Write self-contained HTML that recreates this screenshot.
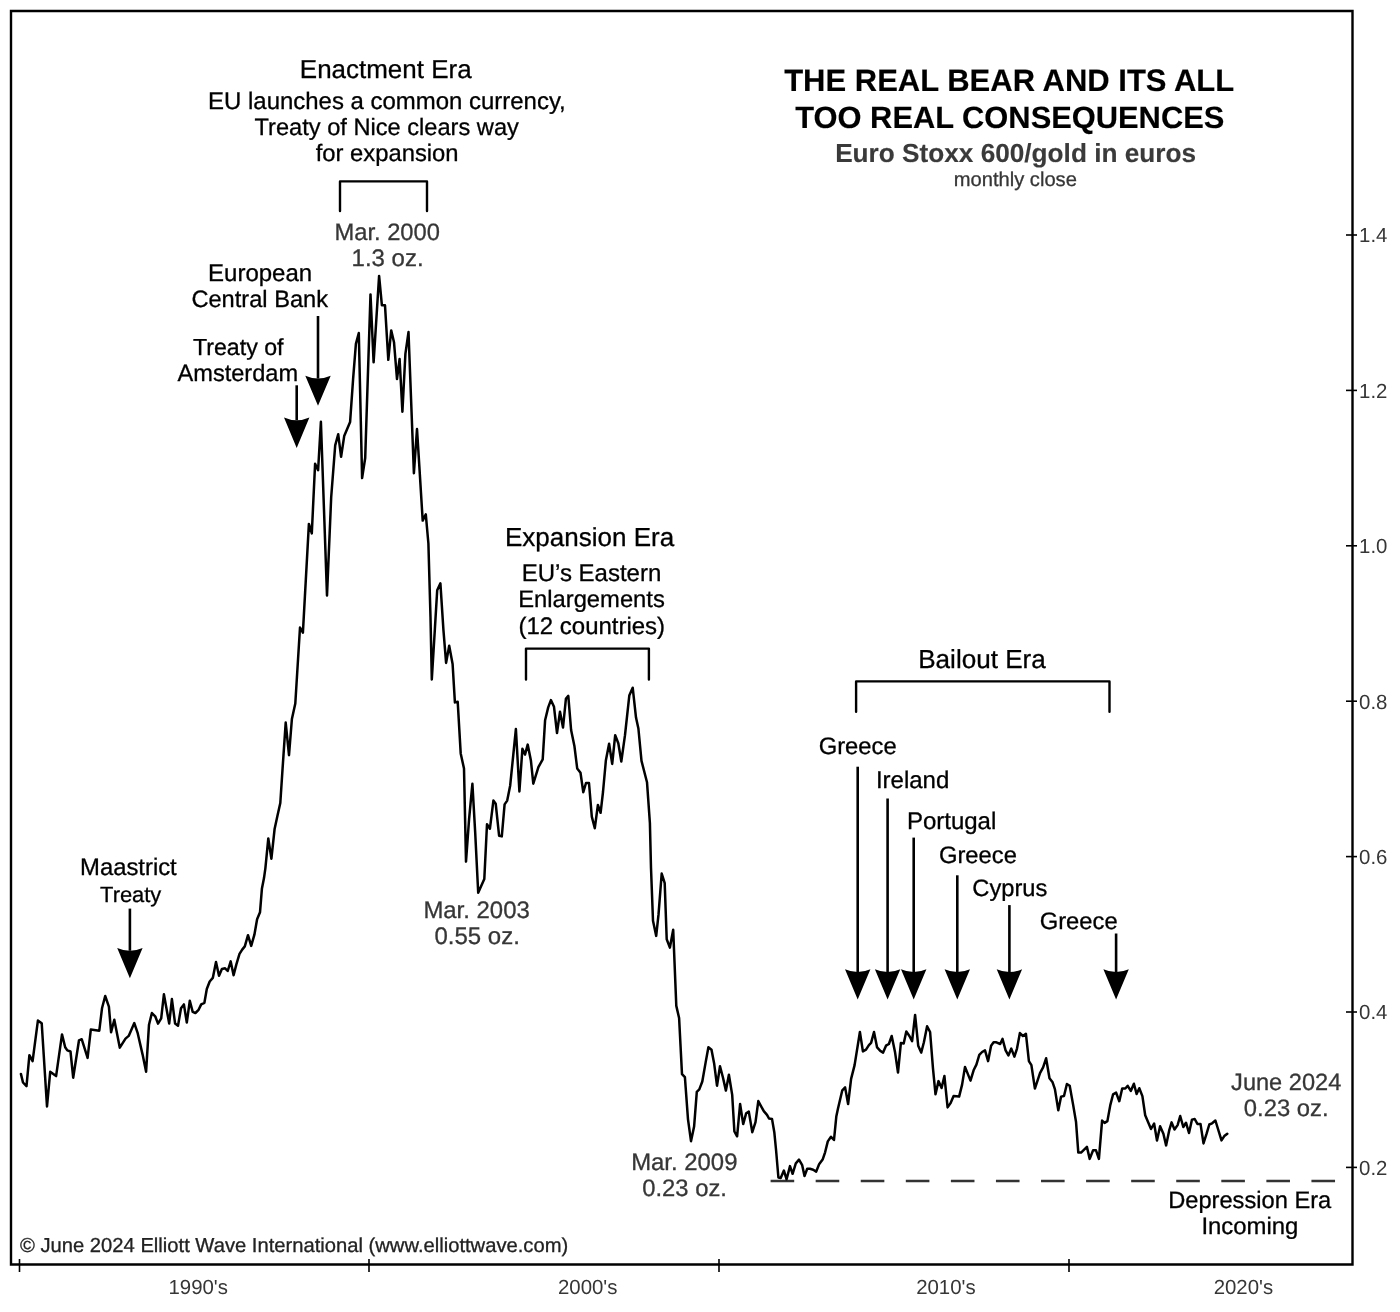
<!DOCTYPE html>
<html><head><meta charset="utf-8"><style>
html,body{margin:0;padding:0;background:#fff;}
body{width:1400px;height:1312px;overflow:hidden;position:relative;}
svg{position:absolute;left:0;top:0;font-family:"Liberation Sans",sans-serif;-webkit-font-smoothing:antialiased;will-change:transform;}
text{text-rendering:geometricPrecision;}
</style></head><body>
<svg width="1400" height="1312" viewBox="0 0 1400 1312">
<path d="M11 11 L1352.5 11 L1352.5 1264.5 L11 1264.5 Z" fill="none" stroke="#000" stroke-width="2.4"/>
<line x1="1346" y1="235.0" x2="1357" y2="235.0" stroke="#000" stroke-width="1.6"/>
<text x="1359.1" y="242.3" font-size="20.4" fill="#363636" font-weight="normal">1.4</text>
<line x1="1346" y1="390.4" x2="1357" y2="390.4" stroke="#000" stroke-width="1.6"/>
<text x="1359.1" y="397.7" font-size="20.4" fill="#363636" font-weight="normal">1.2</text>
<line x1="1346" y1="545.8" x2="1357" y2="545.8" stroke="#000" stroke-width="1.6"/>
<text x="1359.1" y="553.1" font-size="20.4" fill="#363636" font-weight="normal">1.0</text>
<line x1="1346" y1="701.2" x2="1357" y2="701.2" stroke="#000" stroke-width="1.6"/>
<text x="1359.1" y="708.5" font-size="20.4" fill="#363636" font-weight="normal">0.8</text>
<line x1="1346" y1="856.6" x2="1357" y2="856.6" stroke="#000" stroke-width="1.6"/>
<text x="1359.1" y="863.9" font-size="20.4" fill="#363636" font-weight="normal">0.6</text>
<line x1="1346" y1="1012.0" x2="1357" y2="1012.0" stroke="#000" stroke-width="1.6"/>
<text x="1359.1" y="1019.3" font-size="20.4" fill="#363636" font-weight="normal">0.4</text>
<line x1="1346" y1="1167.4" x2="1357" y2="1167.4" stroke="#000" stroke-width="1.6"/>
<text x="1359.1" y="1174.7" font-size="20.4" fill="#363636" font-weight="normal">0.2</text>
<line x1="19.5" y1="1259" x2="19.5" y2="1272" stroke="#000" stroke-width="1.6"/>
<line x1="369" y1="1259" x2="369" y2="1272" stroke="#000" stroke-width="1.6"/>
<line x1="719" y1="1259" x2="719" y2="1272" stroke="#000" stroke-width="1.6"/>
<line x1="1069" y1="1259" x2="1069" y2="1272" stroke="#000" stroke-width="1.6"/>
<text x="198.2" y="1294.3" font-size="20.4" fill="#363636" text-anchor="middle">1990's</text>
<text x="587.7" y="1294.3" font-size="20.4" fill="#363636" text-anchor="middle">2000's</text>
<text x="945.9" y="1294.3" font-size="20.4" fill="#363636" text-anchor="middle">2010's</text>
<text x="1243.4" y="1294.3" font-size="20.4" fill="#363636" text-anchor="middle">2020's</text>
<text x="1009.2" y="91.1" font-size="31.0" fill="#000" stroke="#000" stroke-width="0.15" font-weight="bold" text-anchor="middle">THE REAL BEAR AND ITS ALL</text>
<text x="1009.8" y="128.2" font-size="30.85" fill="#000" stroke="#000" stroke-width="0.15" font-weight="bold" text-anchor="middle">TOO REAL CONSEQUENCES</text>
<text x="1015.6" y="162.4" font-size="26.2" fill="#3a3a3a" stroke="#3a3a3a" stroke-width="0.15" font-weight="bold" text-anchor="middle">Euro Stoxx 600/gold in euros</text>
<text x="1015.3" y="186.3" font-size="20.15" fill="#363636" stroke="#363636" stroke-width="0.3" font-weight="normal" text-anchor="middle">monthly close</text>
<text x="385.7" y="78.2" font-size="25.97" fill="#000" stroke="#000" stroke-width="0.3" font-weight="normal" text-anchor="middle">Enactment Era</text>
<text x="386.9" y="108.6" font-size="23.96" fill="#000" stroke="#000" stroke-width="0.3" font-weight="normal" text-anchor="middle">EU launches a common currency,</text>
<text x="386.7" y="135.1" font-size="23.63" fill="#000" stroke="#000" stroke-width="0.3" font-weight="normal" text-anchor="middle">Treaty of Nice clears way</text>
<text x="387.1" y="160.9" font-size="23.8" fill="#000" stroke="#000" stroke-width="0.3" font-weight="normal" text-anchor="middle">for expansion</text>
<path d="M340 211.10000000000002 L340 181.4 L427 181.4 L427 211.10000000000002" fill="none" stroke="#000" stroke-width="2.4" stroke-linejoin="round" stroke-linecap="round"/>
<text x="387.2" y="240" font-size="23.74" fill="#363636" stroke="#363636" stroke-width="0.3" font-weight="normal" text-anchor="middle">Mar. 2000</text>
<text x="387.6" y="265.7" font-size="23.99" fill="#363636" stroke="#363636" stroke-width="0.3" font-weight="normal" text-anchor="middle">1.3 oz.</text>
<text x="260.1" y="280.9" font-size="24.0" fill="#000" stroke="#000" stroke-width="0.3" font-weight="normal" text-anchor="middle">European</text>
<text x="259.7" y="307.4" font-size="23.63" fill="#000" stroke="#000" stroke-width="0.3" font-weight="normal" text-anchor="middle">Central Bank</text>
<line x1="318" y1="316" x2="318" y2="378.6" stroke="#000" stroke-width="2.6"/><path d="M305.30 375.8 Q318 381.40000000000003 330.70 375.8 L318 405.8 Z" fill="#000"/>
<text x="238.2" y="354.6" font-size="23.2" fill="#000" stroke="#000" stroke-width="0.3" font-weight="normal" text-anchor="middle">Treaty of</text>
<text x="237.8" y="381.1" font-size="23.6" fill="#000" stroke="#000" stroke-width="0.3" font-weight="normal" text-anchor="middle">Amsterdam</text>
<line x1="296.7" y1="385.3" x2="296.7" y2="420.2" stroke="#000" stroke-width="2.6"/><path d="M284.00 417.4 Q296.7 423.0 309.40 417.4 L296.7 448.0 Z" fill="#000"/>
<text x="128.4" y="874.9" font-size="23.85" fill="#000" stroke="#000" stroke-width="0.3" font-weight="normal" text-anchor="middle">Maastrict</text>
<text x="130.7" y="901.7" font-size="21.9" fill="#000" stroke="#000" stroke-width="0.3" font-weight="normal" text-anchor="middle">Treaty</text>
<line x1="129.9" y1="908.6" x2="129.9" y2="950.8" stroke="#000" stroke-width="2.6"/><path d="M117.20 948.0 Q129.9 953.6 142.60 948.0 L129.9 978.2 Z" fill="#000"/>
<text x="589.6" y="546.1" font-size="26.02" fill="#000" stroke="#000" stroke-width="0.3" font-weight="normal" text-anchor="middle">Expansion Era</text>
<text x="591.5" y="580.7" font-size="24.0" fill="#000" stroke="#000" stroke-width="0.3" font-weight="normal" text-anchor="middle">EU’s Eastern</text>
<text x="591.5" y="607.1" font-size="23.78" fill="#000" stroke="#000" stroke-width="0.3" font-weight="normal" text-anchor="middle">Enlargements</text>
<text x="591.8" y="633.6" font-size="23.97" fill="#000" stroke="#000" stroke-width="0.3" font-weight="normal" text-anchor="middle">(12 countries)</text>
<path d="M526 679.5 L526 648.6 L648.9 648.6 L648.9 679.5" fill="none" stroke="#000" stroke-width="2.4" stroke-linejoin="round" stroke-linecap="round"/>
<text x="476.6" y="917.9" font-size="23.93" fill="#363636" stroke="#363636" stroke-width="0.3" font-weight="normal" text-anchor="middle">Mar. 2003</text>
<text x="477.2" y="944.3" font-size="24.0" fill="#363636" stroke="#363636" stroke-width="0.3" font-weight="normal" text-anchor="middle">0.55 oz.</text>
<text x="982.0" y="667.7" font-size="26.1" fill="#000" stroke="#000" stroke-width="0.3" font-weight="normal" text-anchor="middle">Bailout Era</text>
<path d="M856.1 711.8 L856.1 681.4 L1109.5 681.4 L1109.5 711.8" fill="none" stroke="#000" stroke-width="2.4" stroke-linejoin="round" stroke-linecap="round"/>
<text x="857.7" y="753.8" font-size="23.8" fill="#000" stroke="#000" stroke-width="0.3" font-weight="normal" text-anchor="middle">Greece</text>
<line x1="857.7" y1="766.7" x2="857.7" y2="972.0999999999999" stroke="#000" stroke-width="2.6"/><path d="M845.00 969.3 Q857.7 974.9 870.40 969.3 L857.7 999.4 Z" fill="#000"/>
<text x="912.6" y="788" font-size="24.0" fill="#000" stroke="#000" stroke-width="0.3" font-weight="normal" text-anchor="middle">Ireland</text>
<line x1="887.6" y1="798.5" x2="887.6" y2="972.0999999999999" stroke="#000" stroke-width="2.6"/><path d="M874.90 969.3 Q887.6 974.9 900.30 969.3 L887.6 999.4 Z" fill="#000"/>
<text x="951.6" y="828.8" font-size="24.0" fill="#000" stroke="#000" stroke-width="0.3" font-weight="normal" text-anchor="middle">Portugal</text>
<line x1="913.7" y1="837.6" x2="913.7" y2="972.0999999999999" stroke="#000" stroke-width="2.6"/><path d="M901.00 969.3 Q913.7 974.9 926.40 969.3 L913.7 999.4 Z" fill="#000"/>
<text x="977.9" y="862.6" font-size="23.8" fill="#000" stroke="#000" stroke-width="0.3" font-weight="normal" text-anchor="middle">Greece</text>
<line x1="957.3" y1="875.3" x2="957.3" y2="972.0999999999999" stroke="#000" stroke-width="2.6"/><path d="M944.60 969.3 Q957.3 974.9 970.00 969.3 L957.3 999.4 Z" fill="#000"/>
<text x="1009.8" y="895.8" font-size="23.7" fill="#000" stroke="#000" stroke-width="0.3" font-weight="normal" text-anchor="middle">Cyprus</text>
<line x1="1009.4" y1="905.1" x2="1009.4" y2="972.0999999999999" stroke="#000" stroke-width="2.6"/><path d="M996.70 969.3 Q1009.4 974.9 1022.10 969.3 L1009.4 999.4 Z" fill="#000"/>
<text x="1078.7" y="929" font-size="23.8" fill="#000" stroke="#000" stroke-width="0.3" font-weight="normal" text-anchor="middle">Greece</text>
<line x1="1116.1" y1="933.5" x2="1116.1" y2="972.0999999999999" stroke="#000" stroke-width="2.6"/><path d="M1103.40 969.3 Q1116.1 974.9 1128.80 969.3 L1116.1 999.4 Z" fill="#000"/>
<text x="1286.2" y="1089.7" font-size="23.6" fill="#363636" stroke="#363636" stroke-width="0.3" font-weight="normal" text-anchor="middle">June 2024</text>
<text x="1286.2" y="1115.8" font-size="23.8" fill="#363636" stroke="#363636" stroke-width="0.3" font-weight="normal" text-anchor="middle">0.23 oz.</text>
<text x="684.3" y="1169.8" font-size="23.9" fill="#363636" stroke="#363636" stroke-width="0.3" font-weight="normal" text-anchor="middle">Mar. 2009</text>
<text x="684.6" y="1195.9" font-size="23.8" fill="#363636" stroke="#363636" stroke-width="0.3" font-weight="normal" text-anchor="middle">0.23 oz.</text>
<text x="1249.7" y="1207.7" font-size="23.66" fill="#000" stroke="#000" stroke-width="0.3" font-weight="normal" text-anchor="middle">Depression Era</text>
<text x="1249.9" y="1233.8" font-size="23.9" fill="#000" stroke="#000" stroke-width="0.3" font-weight="normal" text-anchor="middle">Incoming</text>
<line x1="770.6" y1="1181" x2="1336.5" y2="1181" stroke="#333" stroke-width="2.3" stroke-dasharray="23.6 21.47"/>
<text x="20.0" y="1251.8" font-size="20.2" fill="#222" stroke="#222" stroke-width="0.3">© June 2024 Elliott Wave International (www.elliottwave.com)</text>
<path d="M20.9 1073.9 L23.0 1082.5 L26.5 1086.2 L29.4 1055.2 L32.6 1061.1 L37.9 1020.6 L41.7 1023.2 L47.0 1106.5 L50.2 1071.8 L56.1 1076.1 L62.0 1034.4 L65.2 1047.2 L67.3 1050.4 L70.5 1051.5 L73.2 1077.7 L79.0 1040.3 L81.7 1039.2 L87.6 1057.9 L90.8 1029.6 L99.3 1030.7 L102.0 1008.3 L105.2 996.0 L108.9 1006.7 L111.1 1032.3 L114.3 1019.7 L119.8 1047.7 L125.5 1038.6 L128.7 1035.9 L134.3 1023.1 L137.7 1033.2 L142.6 1054.6 L146.1 1071.7 L149.0 1024.7 L151.9 1013.0 L155.4 1016.7 L158.0 1023.6 L161.2 1018.3 L163.9 994.3 L169.2 1023.6 L171.9 999.1 L175.1 1023.6 L178.0 1025.8 L181.0 1008.2 L183.9 1004.4 L186.8 1022.6 L189.8 1000.7 L192.7 1011.9 L195.4 1013.0 L198.6 1009.8 L201.2 1004.4 L204.4 1002.8 L206.8 989.0 L209.7 981.5 L212.8 977.9 L216.0 961.9 L219.0 975.8 L221.9 968.9 L225.1 968.3 L227.7 971.0 L230.7 961.4 L233.6 975.3 L236.3 964.6 L239.5 953.9 L242.2 949.6 L244.8 946.4 L248.0 935.2 L251.2 945.9 L254.4 934.7 L257.1 919.2 L260.0 912.3 L261.9 888.8 L264.0 878.1 L265.4 868.1 L268.3 838.4 L271.4 858.7 L274.6 829.0 L277.4 816.0 L280.3 803.0 L282.5 769.7 L285.7 722.6 L289.0 755.2 L291.9 719.0 L295.3 703.5 L300.0 627.5 L302.9 632.6 L308.9 523.9 L311.8 533.4 L315.1 463.7 L318.1 470.2 L320.9 421.8 L327.0 595.4 L331.2 497.0 L335.2 445.4 L338.2 434.2 L341.1 456.8 L344.2 436.1 L350.1 421.9 L353.1 379.1 L355.9 343.9 L358.8 333.0 L362.1 478.1 L365.2 458.0 L370.5 294.4 L373.6 362.3 L379.1 275.9 L381.9 305.3 L385.0 305.3 L388.3 359.8 L391.2 330.4 L394.0 342.2 L397.0 379.1 L399.6 359.0 L402.4 411.8 L405.4 353.9 L408.5 332.1 L413.9 473.2 L417.0 429.1 L419.3 465.7 L422.7 520.6 L425.8 514.3 L428.4 543.5 L430.5 617.2 L431.8 679.5 L434.9 628.6 L437.2 590.3 L440.4 583.4 L443.4 629.7 L446.1 662.9 L449.2 645.8 L452.6 664.0 L454.9 702.4 L457.7 701.8 L460.7 753.4 L464.0 768.6 L466.0 861.6 L469.1 818.9 L472.4 783.8 L475.2 832.6 L478.2 892.8 L484.3 879.1 L487.0 824.2 L489.9 828.8 L493.4 800.6 L495.7 803.7 L499.1 835.7 L501.8 836.4 L504.6 804.4 L507.2 800.6 L510.2 785.4 L515.9 729.0 L519.4 791.5 L522.4 748.8 L525.0 754.6 L527.7 744.6 L530.9 760.5 L533.3 783.7 L538.4 767.2 L542.7 759.3 L545.1 720.2 L548.2 707.4 L550.9 700.1 L554.0 706.8 L557.0 733.0 L560.0 711.7 L563.0 727.6 L565.9 698.9 L568.3 695.9 L571.1 730.0 L574.4 745.9 L577.2 768.4 L580.5 772.7 L583.3 792.2 L586.0 783.0 L589.0 783.0 L591.8 816.6 L594.8 828.2 L597.9 805.0 L600.6 812.8 L603.0 792.0 L605.9 760.2 L609.1 743.8 L612.2 763.9 L615.2 735.2 L618.3 743.2 L621.3 761.5 L625.0 735.2 L629.3 695.6 L632.7 687.7 L636.0 717.6 L638.4 728.5 L641.5 760.9 L647.0 782.2 L649.9 823.0 L651.0 868.0 L653.0 920.8 L656.2 935.9 L658.5 914.7 L661.7 873.5 L664.7 883.1 L666.7 939.3 L669.9 947.6 L673.2 929.7 L676.3 1005.9 L679.1 1018.0 L682.0 1074.1 L684.9 1077.2 L688.0 1119.3 L691.0 1141.2 L694.1 1126.6 L696.8 1091.8 L699.3 1089.4 L702.3 1081.5 L705.6 1062.6 L708.4 1047.3 L711.5 1049.8 L714.1 1063.2 L717.0 1085.7 L720.0 1066.2 L723.0 1077.8 L725.9 1090.6 L728.9 1074.8 L732.2 1094.9 L734.4 1131.5 L737.1 1136.3 L740.1 1104.0 L743.2 1124.1 L746.2 1113.2 L748.8 1111.6 L752.3 1132.2 L755.5 1122.2 L758.3 1101.1 L761.0 1106.1 L763.8 1111.2 L767.0 1114.8 L769.0 1118.5 L772.0 1118.9 L774.3 1132.2 L776.1 1150.5 L778.4 1177.5 L780.7 1178.0 L783.9 1170.6 L786.6 1179.3 L790.0 1166.1 L792.6 1173.8 L795.8 1163.3 L799.0 1159.7 L802.2 1165.2 L804.5 1176.1 L807.2 1168.8 L810.0 1168.8 L813.2 1169.7 L816.2 1171.6 L819.1 1164.2 L822.8 1159.2 L825.1 1152.3 L827.8 1141.4 L831.0 1136.8 L834.0 1140.0 L836.3 1116.6 L838.0 1108.6 L842.3 1090.3 L845.1 1087.4 L848.1 1104.0 L851.1 1078.9 L854.6 1065.1 L859.9 1032.0 L862.9 1051.4 L866.0 1049.7 L868.9 1045.1 L871.1 1042.9 L874.0 1032.0 L877.1 1047.4 L880.3 1050.9 L883.1 1052.6 L886.0 1045.7 L888.9 1044.0 L891.7 1036.0 L895.1 1052.6 L898.0 1072.6 L900.9 1042.9 L903.7 1043.4 L906.3 1031.4 L909.4 1036.0 L912.1 1041.1 L915.1 1014.9 L918.2 1045.7 L921.2 1052.6 L923.9 1042.3 L927.1 1026.3 L930.1 1032.0 L933.0 1068.6 L935.5 1094.3 L938.5 1081.1 L941.6 1088.0 L944.4 1076.0 L947.6 1107.4 L950.4 1103.4 L953.6 1096.0 L959.1 1096.6 L962.1 1084.6 L965.0 1066.9 L970.5 1080.6 L973.6 1070.3 L976.4 1064.6 L979.3 1054.9 L982.1 1052.0 L985.0 1050.3 L988.1 1061.1 L991.1 1045.7 L993.6 1042.3 L996.4 1042.3 L1000.2 1044.0 L1002.5 1038.9 L1005.6 1050.3 L1008.4 1055.4 L1011.3 1048.6 L1014.4 1056.6 L1017.0 1048.6 L1019.9 1033.1 L1022.9 1036.0 L1025.9 1033.7 L1028.9 1061.1 L1031.4 1065.1 L1034.9 1088.6 L1040.0 1073.1 L1043.1 1067.4 L1046.1 1058.3 L1049.5 1078.3 L1052.6 1082.3 L1054.9 1089.1 L1058.3 1110.3 L1061.1 1096.6 L1064.0 1096.0 L1066.9 1084.0 L1069.7 1085.7 L1073.1 1104.6 L1076.0 1121.7 L1078.3 1152.6 L1081.1 1152.6 L1086.9 1146.9 L1089.7 1158.9 L1093.1 1150.3 L1096.0 1150.3 L1098.9 1158.9 L1102.1 1120.6 L1104.6 1122.9 L1107.4 1121.1 L1110.3 1105.1 L1113.1 1094.3 L1116.1 1092.6 L1119.3 1101.2 L1122.2 1088.5 L1125.3 1088.5 L1127.7 1085.8 L1130.8 1090.9 L1133.9 1083.7 L1136.6 1094.0 L1139.3 1088.2 L1142.4 1096.1 L1145.2 1115.3 L1151.0 1129.0 L1154.1 1123.5 L1157.0 1140.6 L1160.1 1126.2 L1163.4 1133.8 L1166.1 1145.4 L1169.2 1130.4 L1171.6 1122.4 L1174.5 1129.5 L1177.6 1125.1 L1180.2 1116.0 L1183.3 1127.0 L1186.0 1122.7 L1189.0 1133.0 L1192.0 1119.6 L1194.7 1119.0 L1197.4 1123.9 L1200.5 1123.9 L1203.5 1143.4 L1206.6 1133.7 L1209.3 1124.5 L1212.1 1123.3 L1215.4 1120.5 L1221.5 1140.4 L1224.3 1136.1 L1227.3 1133.7" fill="none" stroke="#000" stroke-width="2.5" stroke-linejoin="round" stroke-linecap="round"/>
</svg>
</body></html>
